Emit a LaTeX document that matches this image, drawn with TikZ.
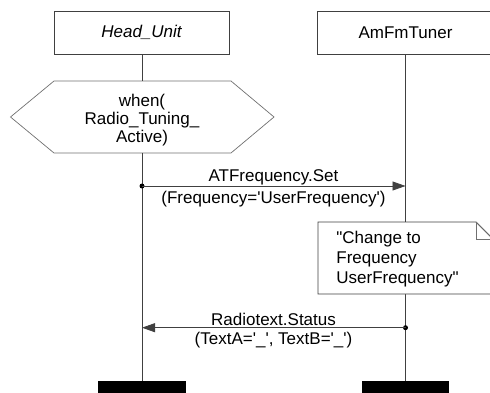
\documentclass[tikz,border=0pt]{standalone}
\usepackage{fontspec}
\setmainfont{Liberation Sans}[Ligatures=TeXOff]
\usetikzlibrary{arrows.meta}
\definecolor{ln}{HTML}{404040}
\definecolor{lt}{HTML}{707070}
\tikzset{
  lifebox/.style={draw=ln, fill=white, minimum width=177pt, minimum height=43pt, inner sep=0pt},
  endbar/.style={fill=black, minimum width=88pt, minimum height=14pt, inner sep=0pt},
  lifeline/.style={draw=ln, line width=0.8pt},
  msg/.style={draw=ln, line width=0.8pt, -{Triangle[length=13pt,width=9pt]}},
  msgdot/.style={fill=black, circle, inner sep=0pt, minimum size=5pt},
  lbl/.style={inner sep=0pt, anchor=center}
}
\begin{document}
\begin{tikzpicture}[x=1pt, y=-1pt, font=\fontsize{17}{19.5}\selectfont, line width=0.8pt]
\useasboundingbox (0,0) rectangle (490,393);
\clip (0,0) rectangle (490,393);

% instance heads
\node[lifebox, minimum width=175pt] (hu) at (141.5,32.5) {\itshape Head\_Unit};
\node[lifebox] (tu) at (405.5,32.5) {AmFmTuner};

% condition (hexagon) on the Head_Unit lifeline
\draw[draw=lt, line width=0.7pt] (54,81) -- (231,81) -- (274,117) -- (231,153) -- (54,153) -- (10.5,117) -- cycle;
\node[align=center, inner sep=0pt, font=\fontsize{17}{18}\selectfont] (cond) at (142,120) {when(\\Radio\_Tuning\_\\Active)};
\coordinate (condtop) at (142,81);
\coordinate (condbot) at (142,153);

% end bars
\node[endbar] (endL) at (141.7,388) {};
\node[endbar, minimum width=87.3pt] (endR) at (405.5,388) {};

% lifelines
\draw[lifeline] (hu.south -| condtop) -- (condtop);
\draw[lifeline] (condbot) -- (endL.north -| condbot);

% note on the AmFmTuner lifeline
\coordinate (ntop) at (405.5,222);
\coordinate (nbot) at (405.5,294);
\draw[lifeline] (tu.south -| ntop) -- (ntop);
\draw[lifeline] (nbot) -- (endR.north -| nbot);
\draw[draw=ln, fill=white] (318,222) -- (476,222) -- (494,240) -- (494,294) -- (318,294) -- cycle;
\draw[draw=lt, line width=0.7pt] (476,222) -- (476,239) -- (494,239);
\draw[draw=lt, line width=0.7pt] (476,222) -- (494,240);
\node[align=left, anchor=north west, inner sep=0pt, font=\fontsize{17}{20}\selectfont] (note) at (336,231) {"Change to\\Frequency\\UserFrequency"};

% message 1
\coordinate (m1s) at (142,186);
\coordinate (m1e) at (405.5,186);
\node[msgdot] (d1) at (m1s) {};
\draw[msg] (m1s) -- (m1e);
\node[lbl] (l1a) at (273.5,177) {ATFrequency.Set};
\node[lbl] (l1b) at (273.5,199) {(Frequency='UserFrequency')};

% message 2
\coordinate (m2s) at (405.5,327.7);
\coordinate (m2e) at (142,327.7);
\node[msgdot] (d2) at (m2s) {};
\draw[msg] (m2s) -- (m2e);
\node[lbl] (l2a) at (273.5,319) {Radiotext.Status};
\node[lbl] (l2b) at (273.5,340) {(TextA='\_', TextB='\_')};
\end{tikzpicture}
\end{document}
